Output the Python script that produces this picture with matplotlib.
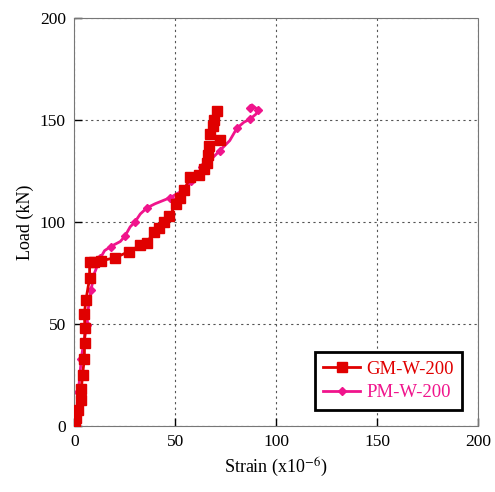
import matplotlib.pyplot as plt

plt.rcParams['font.family'] = ['Liberation Serif', 'DejaVu Serif']
plt.rcParams['mathtext.fontset'] = 'stix'

# GM-W-200 (strain x1e-6, load kN)
gm_strain = [0.5, 1.0, 2.0, 3.3, 3.5, 4.1, 5.0, 5.1, 5.3, 5.0, 5.8, 7.6, 7.6,
             10, 13, 20, 27, 32.7, 36, 39.3, 42, 44.2, 47, 50.5, 52.5, 54.5, 57.4,
             62, 64, 65.5, 66, 66.5, 72, 67.3, 68.5, 69, 70.5]
gm_load = [1, 4, 8, 12.7, 18, 25, 33, 40.6, 48, 55, 62, 72.5, 80.5,
           80.5, 81, 82.5, 85.5, 88.7, 90, 95, 97, 100, 103, 108.7, 112, 116, 122,
           123, 126, 129, 133, 137.4, 140.5, 143, 147, 150, 154.5]

# PM-W-200
pm_strain = [0.5, 1.0, 1.3, 2.0, 2.1, 2.5, 3.5, 4.5, 6.3, 7.0, 8.3, 10, 12.9,
             15, 18, 22.8, 25, 27.7, 30, 32.7, 36, 40, 47.5, 54, 58, 62.4,
             63.2, 68, 72, 77, 80.5, 84, 87, 90, 91, 88, 87]
pm_load = [1.5, 5, 8.8, 13, 16.8, 22, 33, 40, 49.5, 58, 66.7, 75, 82.3,
           86, 88, 90.5, 93, 97.7, 100, 104, 107, 109, 112, 115.7, 120, 124.7,
           127, 131, 135, 140, 146, 149, 150.5, 153, 155, 157.5, 156]

gm_color = '#e00000'
pm_color = '#f0148c'

fig = plt.figure(figsize=(4.95, 4.92), dpi=100)
ax = fig.add_axes([0.15, 0.134, 0.816, 0.829])

ax.plot(gm_strain, gm_load, color=gm_color, lw=2, marker='s', ms=7,
        label='GM-W-200', zorder=3)
ax.plot(pm_strain, pm_load, color=pm_color, lw=2, marker='D', ms=4,
        markevery=2, label='PM-W-200', zorder=2)

ax.set_xlim(0, 200)
ax.set_ylim(0, 200)
ax.set_xticks([0, 50, 100, 150, 200])
ax.set_yticks([0, 50, 100, 150, 200])
ax.tick_params(direction='in', length=6, width=1, labelsize=12.5, pad=6)
ax.grid(True, color='#555555', linestyle=(0, (2, 3)), lw=0.8)
for sp in ax.spines.values():
    sp.set_linestyle((0, (1, 1)))
    sp.set_color('#777777')

ax.set_xlabel('Strain (x10$^{\\mathrm{-6}}$)', fontsize=13)
ax.set_ylabel('Load (kN)', fontsize=13)

leg = ax.legend(loc='lower right', bbox_to_anchor=(0.96, 0.04), fontsize=13.5,
                fancybox=False, framealpha=1, edgecolor='black',
                borderaxespad=0, handlelength=2.0, handletextpad=0.3,
                labelspacing=0.35, borderpad=0.45)
leg.get_frame().set_linewidth(2)
for txt, c in zip(leg.get_texts(), [gm_color, pm_color]):
    txt.set_color(c)

fig.savefig('out.png', dpi=100)
